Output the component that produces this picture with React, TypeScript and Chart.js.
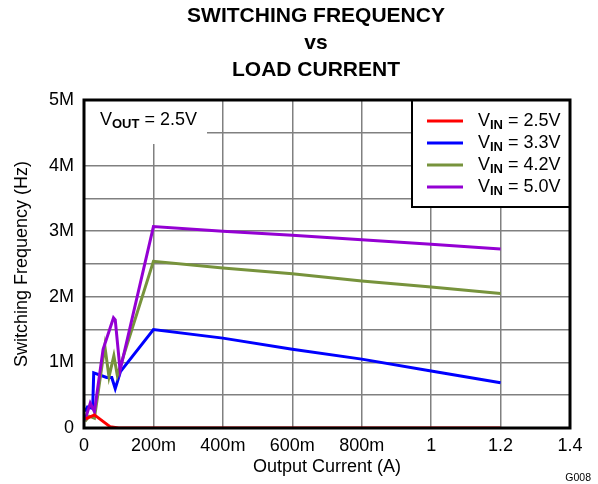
import React, { useEffect, useRef } from "react";
import { Chart, registerables } from "chart.js";

Chart.register(...registerables);

const titleLines = ["SWITCHING FREQUENCY", "vs", "LOAD CURRENT"];
const xTickLabels = ["0", "200m", "400m", "600m", "800m", "1", "1.2", "1.4"];
const yTickLabels = ["0", "1M", "2M", "3M", "4M", "5M"];
const seriesLabels = ["2.5V", "3.3V", "4.2V", "5.0V"];
const seriesColors = ["#ff0000", "#0000ff", "#77933c", "#9400d3"];

// Output current (A) and switching frequency (MHz)
const redX = [0.005, 0.03, 0.05, 0.075, 0.1, 0.2, 0.4, 0.6, 0.8, 1.0, 1.2];
const redY = [0.14, 0.2, 0.12, 0.02, 0, 0, 0, 0, 0, 0, 0];
const blueX = [0.003, 0.01, 0.025, 0.028, 0.065, 0.08, 0.09, 0.105, 0.2, 0.4, 0.6, 0.8, 1.0, 1.2];
const blueY = [0.25, 0.32, 0.3, 0.84, 0.77, 0.77, 0.6, 0.86, 1.5, 1.37, 1.2, 1.05, 0.87, 0.69];
const greenX = [0.003, 0.015, 0.03, 0.06, 0.072, 0.086, 0.096, 0.2, 0.4, 0.6, 0.8, 1.0, 1.2];
const greenY = [0.1, 0.18, 0.15, 1.25, 0.78, 1.1, 0.8, 2.54, 2.44, 2.35, 2.24, 2.15, 2.05];
const purpleX = [0.003, 0.018, 0.03, 0.055, 0.085, 0.09, 0.104, 0.2, 0.4, 0.6, 0.8, 1.0, 1.2];
const purpleY = [0.12, 0.38, 0.25, 1.2, 1.68, 1.65, 0.88, 3.07, 3.0, 2.94, 2.87, 2.8, 2.73];

const seriesX = [redX, blueX, greenX, purpleX];
const seriesY = [redY, blueY, greenY, purpleY];

const FONT = "'Liberation Sans', Arial, sans-serif";

function drawSubLabel(ctx: CanvasRenderingContext2D, x: number, y: number, sub: string, rest: string) {
  ctx.textBaseline = "middle";
  ctx.textAlign = "left";
  ctx.fillStyle = "#000";
  ctx.font = `18px ${FONT}`;
  ctx.fillText("V", x, y);
  let cx = x + ctx.measureText("V").width;
  ctx.font = `bold 13px ${FONT}`;
  ctx.fillText(sub, cx, y + 4);
  cx += ctx.measureText(sub).width;
  ctx.font = `18px ${FONT}`;
  ctx.fillText(rest, cx, y);
}

const decorPlugin = {
  id: "decor",
  beforeDatasetsDraw(chart: any) {
    const ctx = chart.ctx as CanvasRenderingContext2D;
    const a = chart.chartArea;
    ctx.save();
    // VOUT box
    ctx.fillStyle = "#fff";
    ctx.fillRect(a.left, a.top, 123, 44);
    drawSubLabel(ctx, a.left + 16, a.top + 20, "OUT", " = 2.5V");
    // legend box
    const lx = 412, ly = a.top, lw = a.right - 412, lh = 107;
    ctx.fillStyle = "#fff";
    ctx.fillRect(lx, ly, lw, lh);
    ctx.lineWidth = 2;
    ctx.strokeStyle = "#000";
    ctx.strokeRect(lx, ly, lw, lh);
    const rows = [121, 143, 165, 187];
    seriesLabels.forEach((lab, i) => {
      ctx.strokeStyle = seriesColors[i];
      ctx.lineWidth = 3;
      ctx.beginPath();
      ctx.moveTo(427, rows[i]);
      ctx.lineTo(463, rows[i]);
      ctx.stroke();
      drawSubLabel(ctx, 478, rows[i], "IN", " = " + lab);
    });
    ctx.restore();
  },
  afterDraw(chart: any) {
    const ctx = chart.ctx as CanvasRenderingContext2D;
    const a = chart.chartArea;
    ctx.save();
    ctx.strokeStyle = "#000";
    ctx.lineWidth = 3;
    ctx.strokeRect(a.left, a.top, a.right - a.left, a.bottom - a.top);
    ctx.fillStyle = "#000";
    ctx.textAlign = "center";
    ctx.textBaseline = "middle";
    ctx.font = `bold 21px ${FONT}`;
    const ty = [16, 43, 70];
    titleLines.forEach((t, i) => ctx.fillText(t, 316, ty[i]));
    ctx.font = `18px ${FONT}`;
    ctx.fillText("Output Current (A)", (a.left + a.right) / 2, 467);
    ctx.save();
    ctx.translate(22, (a.top + a.bottom) / 2);
    ctx.rotate(-Math.PI / 2);
    ctx.fillText("Switching Frequency (Hz)", 0, 0);
    ctx.restore();
    ctx.font = `10.5px ${FONT}`;
    ctx.textAlign = "right";
    ctx.fillText("G008", 591, 478);
    ctx.restore();
  },
};

export default function App() {
  const ref = useRef<HTMLCanvasElement>(null);
  useEffect(() => {
    if (!ref.current) return;
    const datasets = seriesLabels.map((lab, i) => ({
      label: "VIN = " + lab,
      data: seriesX[i].map((x, j) => ({ x, y: seriesY[i][j] })),
      borderColor: seriesColors[i],
      backgroundColor: seriesColors[i],
      borderWidth: 3,
      pointRadius: 0,
      tension: 0,
      fill: false,
      order: i === 0 ? 0 : 4 - i,
    }));
    const chart = new Chart(ref.current, {
      type: "line",
      data: { datasets },
      options: {
        animation: false,
        responsive: false,
        layout: { padding: { left: 0, top: 100, right: 28, bottom: 0 } },
        plugins: { legend: { display: false }, title: { display: false }, tooltip: { enabled: false } },
        scales: {
          x: {
            type: "linear",
            min: 0,
            max: 1.4,
            afterFit: (s: any) => { s.height = 56; },
            afterBuildTicks: (s: any) => {
              s.ticks = xTickLabels.map((_, i) => ({ value: i * 0.2 }));
            },
            ticks: {
              padding: 7,
              color: "#000",
              font: { family: FONT, size: 18 },
              maxRotation: 0,
              autoSkip: false,
              callback: (_v: any, i: number) => xTickLabels[i],
            },
            grid: { color: "#808080", lineWidth: 1.5, drawTicks: false },
            border: { display: false },
          },
          y: {
            type: "linear",
            min: 0,
            max: 5,
            afterFit: (s: any) => { s.width = 84; },
            afterBuildTicks: (s: any) => {
              const t = [];
              for (let i = 0; i <= 10; i++) t.push({ value: i * 0.5 });
              s.ticks = t;
            },
            ticks: {
              padding: 10,
              color: "#000",
              font: { family: FONT, size: 18 },
              autoSkip: false,
              callback: (v: any) => {
                const n = Number(v);
                return Number.isInteger(n) ? yTickLabels[n] : "";
              },
            },
            grid: { color: "#808080", lineWidth: 1.5, drawTicks: false },
            border: { display: false },
          },
        },
      },
      plugins: [decorPlugin],
    } as any);
    return () => chart.destroy();
  }, []);
  return (
    <div style={{ position: "fixed", left: 0, top: 0, width: 598, height: 484, background: "#fff" }}>
      <canvas ref={ref} width={598} height={484} style={{ width: 598, height: 484 }} />
    </div>
  );
}
